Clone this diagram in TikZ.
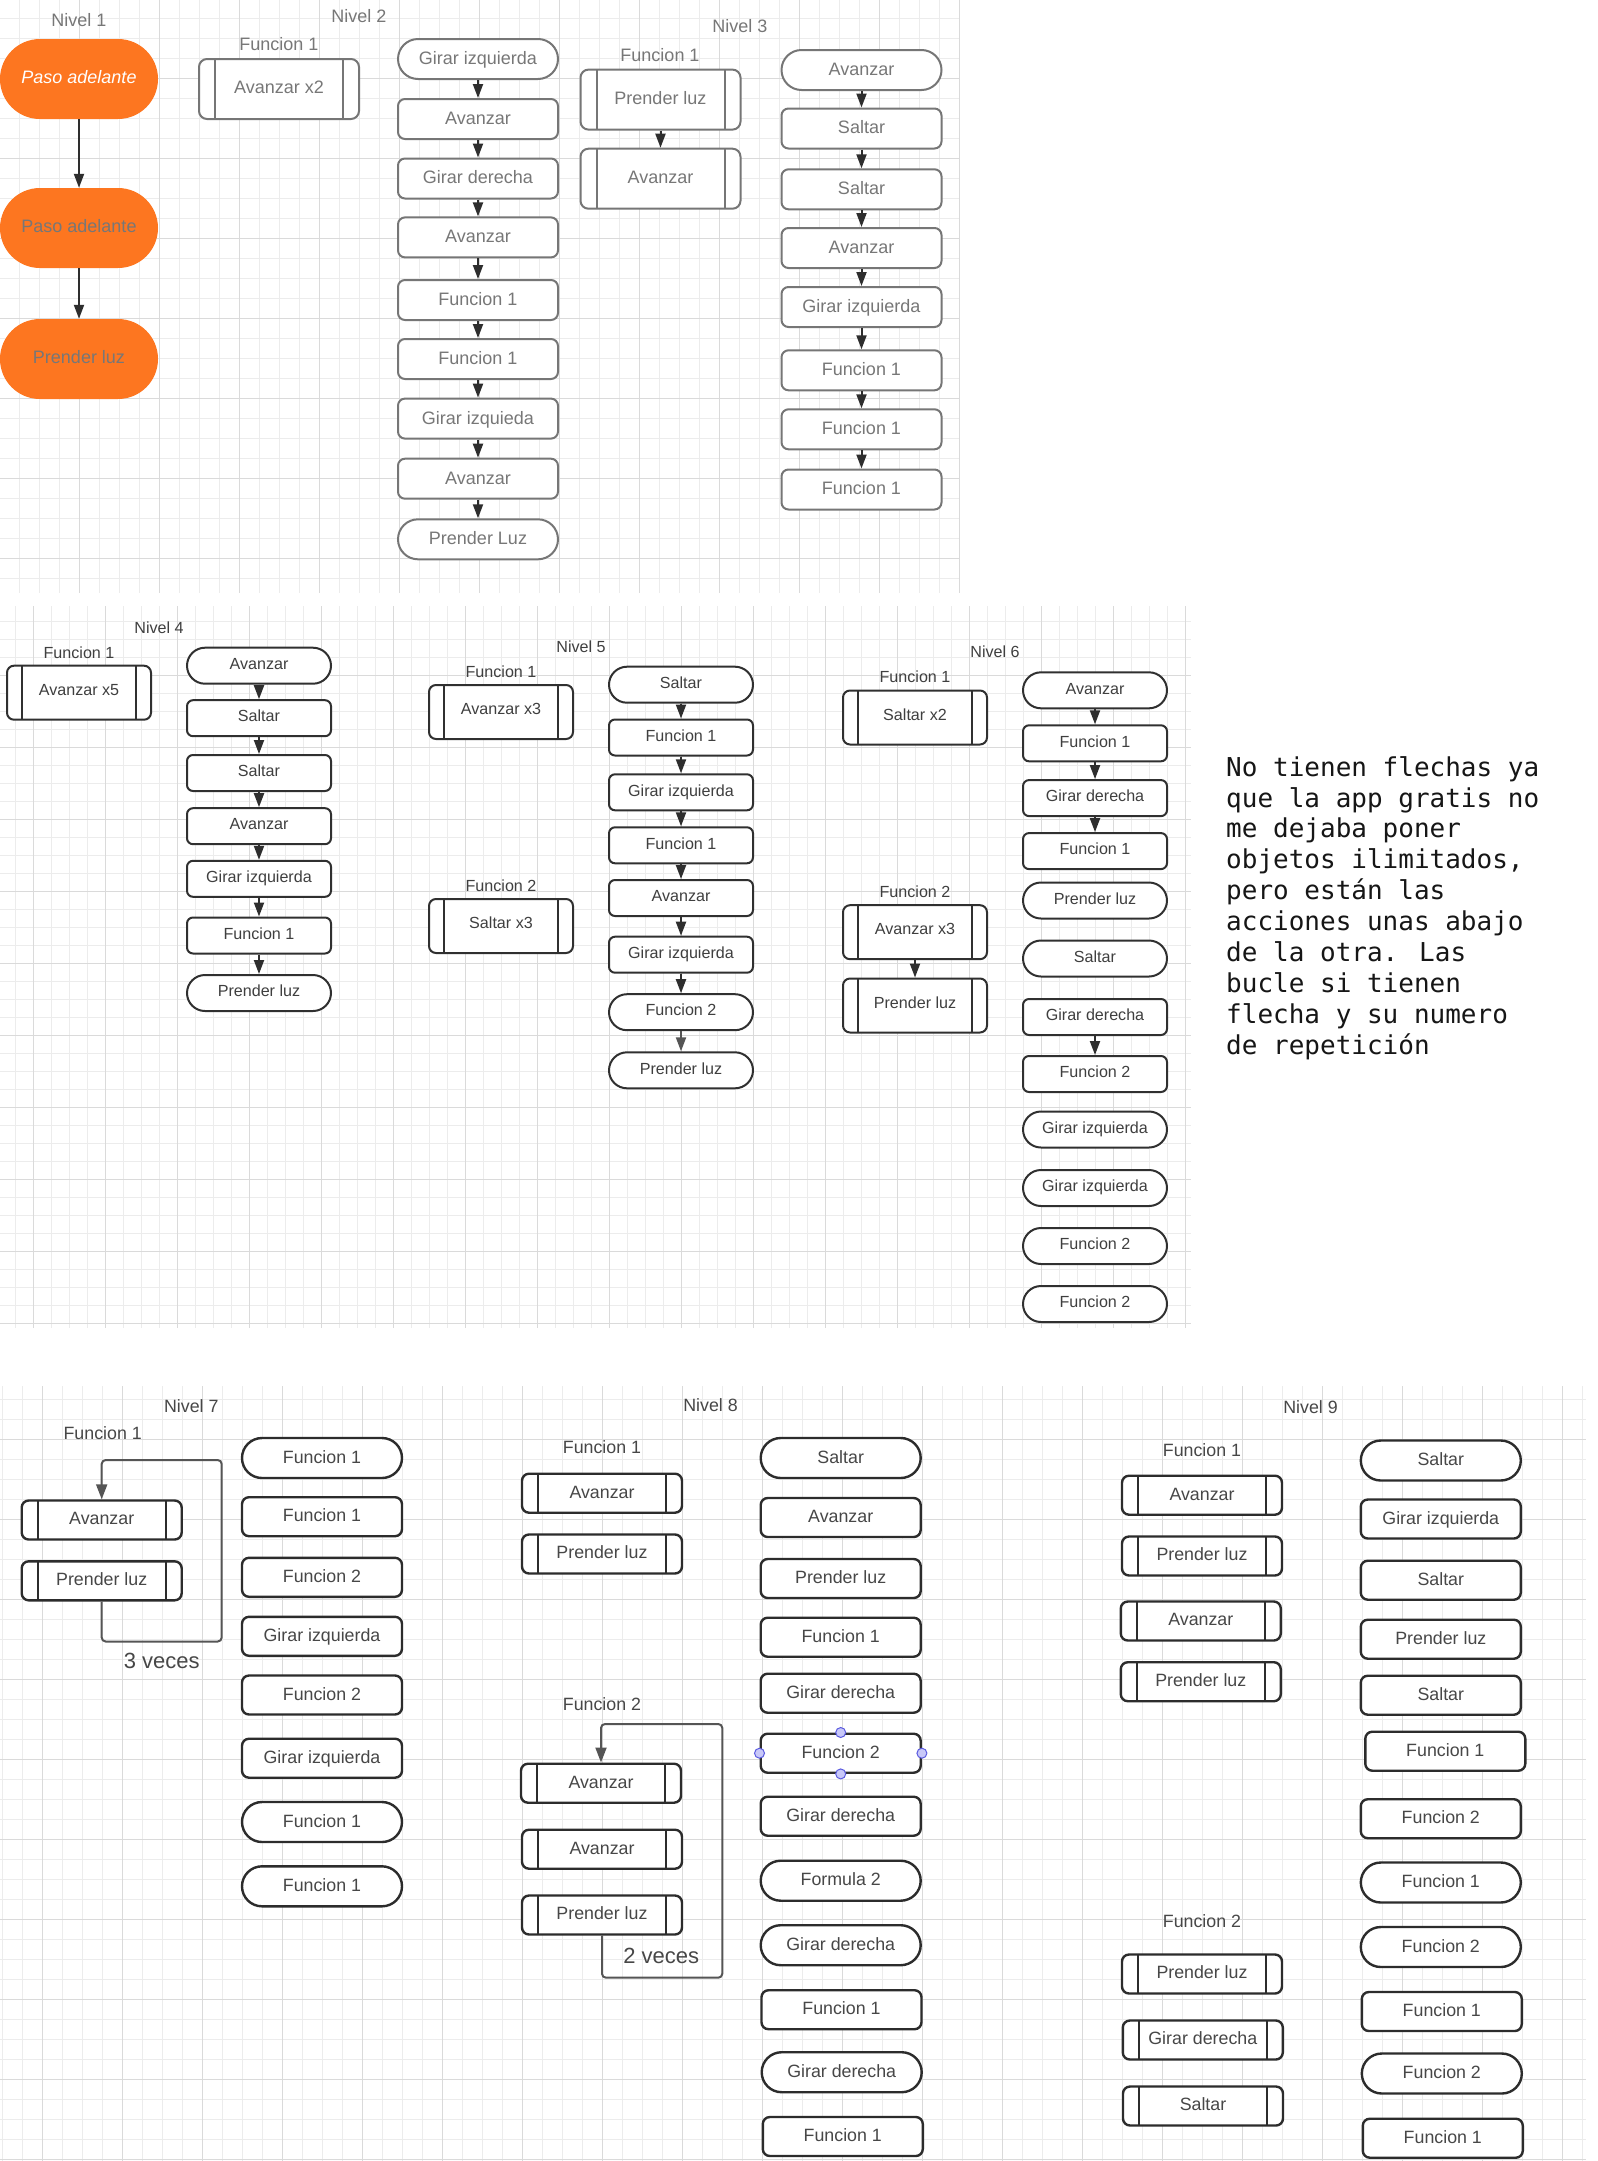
\documentclass[tikz,border=0pt]{standalone}
\usepackage{fontspec}
\setmainfont{Liberation Sans}
\newfontfamily\letramono{DejaVu Sans Mono}
\usetikzlibrary{arrows.meta}
\definecolor{naranja}{HTML}{FD7620}
\definecolor{grisA}{HTML}{777777}
\definecolor{bordeA}{HTML}{767676}
\definecolor{flechagris}{HTML}{2E2E2E}
\definecolor{grisB}{HTML}{3F3F3F}
\definecolor{bordeB}{HTML}{303030}
\definecolor{grisC}{HTML}{474747}
\definecolor{bordeC}{HTML}{2C2C2C}
\definecolor{buclegris}{HTML}{555555}
\definecolor{rejilla}{HTML}{ECECEC}
\definecolor{rejillaoscura}{HTML}{DADADA}
\definecolor{asaborde}{HTML}{5B5BE0}
\definecolor{asafondo}{HTML}{C8C8F8}
\definecolor{notanegro}{HTML}{161616}
\def\letraA{\fontsize{18}{21}\selectfont}
\def\letraB{\fontsize{16.1}{19}\selectfont}
\def\letraC{\fontsize{17.8}{21}\selectfont}
\tikzset{barras/.style 2 args={path picture={
    \draw[#1, line width=2pt] ([xshift=#2]path picture bounding box.north west)
        -- ([xshift=#2]path picture bounding box.south west);
    \draw[#1, line width=2pt] ([xshift=-#2]path picture bounding box.north east)
        -- ([xshift=-#2]path picture bounding box.south east);}}}
\tikzstyle{fino}=[draw=rejilla, line width=1pt]
\tikzstyle{grueso}=[draw=rejillaoscura, line width=1pt]
% nivel 1 a 3
\tikzstyle{tituloA}=[text=grisA, font=\letraA, inner sep=0pt,
    text height=12.9pt, text depth=0pt]
\tikzstyle{cajaA}=[draw=bordeA, fill=white, text=grisA, font=\letraA,
    line width=2pt, minimum width=160pt, minimum height=40pt,
    rounded corners=7pt, inner sep=0pt, text height=10.9pt, text depth=0pt]
\tikzstyle{pildoraA}=[cajaA, rounded corners=20pt]
\tikzstyle{subA}=[cajaA, minimum height=60pt, rounded corners=8pt,
    text height=8.9pt, barras={bordeA}{16pt}]
\tikzstyle{naranjo}=[fill=naranja, text=grisA, font=\letraA,
    minimum width=158pt, minimum height=80pt, rounded corners=40pt,
    inner sep=0pt, text height=8.4pt, text depth=0pt]
\tikzstyle{flechaA}=[draw=flechagris, line width=2pt,
    -{Triangle[width=10pt,length=14pt]}]
% nivel 4 a 6
\tikzstyle{tituloB}=[text=grisB, font=\letraB, inner sep=0pt,
    text height=11.5pt, text depth=0pt]
\tikzstyle{cajaB}=[draw=bordeB, fill=white, text=grisB, font=\letraB,
    line width=2pt, minimum width=144pt, minimum height=36pt,
    rounded corners=6pt, inner sep=0pt, text height=7.5pt, text depth=0pt]
\tikzstyle{pildoraB}=[cajaB, rounded corners=18pt]
\tikzstyle{subB}=[cajaB, minimum height=54pt, rounded corners=7pt,
    text height=5.5pt, barras={bordeB}{15pt}]
% nivel 7 a 9
\tikzstyle{tituloC}=[text=grisC, font=\letraC, inner sep=0pt,
    text height=12.8pt, text depth=0pt]
\tikzstyle{cajaC}=[draw=bordeC, fill=white, text=grisC, font=\letraC,
    line width=2.4pt, minimum width=160pt, minimum height=39pt,
    rounded corners=7pt, inner sep=0pt, text height=10pt, text depth=0pt]
\tikzstyle{pildoraC}=[cajaC, minimum height=40pt, rounded corners=20pt]
\tikzstyle{subC}=[cajaC, text height=9.6pt, barras={bordeC}{16pt}]
\tikzstyle{bucle}=[draw=buclegris, line width=2pt, rounded corners=4pt,
    -{Triangle[width=11pt,length=15pt]}]
\tikzstyle{asa}=[circle, draw=asaborde, fill=asafondo, line width=1pt,
    minimum size=10pt, inner sep=0pt]

\begin{document}
\begin{tikzpicture}[x=1pt, y=-1pt]
    \useasboundingbox (0,0) rectangle (1598,2161);
    \fill[white] (0,0) rectangle (1598,2161);
    % rejillas
    \foreach \k in {1,...,48} \draw[fino] ({20*\k-1},0) -- ++(0,593);
    \foreach \k in {1,...,29} \draw[fino] (0,{20*\k-2}) -- ++(960,0);
    \foreach \k in {1,...,12} \draw[grueso] ({80*\k-1},0) -- ++(0,593);
    \foreach \k in {1,...,7} \draw[grueso] (0,{80*\k-2}) -- ++(960,0);
    \foreach \k in {0,...,65} \draw[fino] ({15.7+18*\k},606) -- ++(0,722);
    \foreach \k in {34,...,73} \draw[fino] (0,{9+18*\k}) -- ++(1191,0);
    \foreach \k in {0,...,16} \draw[grueso] ({33.7+72*\k},606) -- ++(0,722);
    \foreach \k in {1,...,10} \draw[grueso] (0,{603+72*\k}) -- ++(1191,0);
    \foreach \k in {0,...,79} \draw[fino] ({2+20*\k},1386) -- ++(0,775);
    \foreach \k in {69,...,107} \draw[fino] (0,{19+20*\k}) -- ++(1586,0);
    \foreach \k in {0,...,19} \draw[grueso] ({42+80*\k},1386) -- ++(0,775);
    \foreach \k in {0,...,9} \draw[grueso] (0,{1439+80*\k}) -- ++(1586,0);

    % Nivel 1
    \node (niv1) [tituloA] at (79,20) {Nivel 1};
    \node (p1) [naranjo, text=white, font=\letraA\itshape] at (79,79) {Paso adelante};
    \node (p2) [naranjo] at (79,228) {Paso adelante};
    \node (p3) [naranjo] at (79,359) {Prender luz};
    \draw[flechaA] (p1) -- (p2);
    \draw[flechaA] (p2) -- (p3);

    % Nivel 2
    \node (niv2) [tituloA] at (359,16) {Nivel 2};
    \node (fn2) [tituloA] at (279,44) {Funcion 1};
    \node (s2) [subA] at (279,89) {Avanzar x2};
    \node (a1) [pildoraA] at (478,59) {Girar izquierda};
    \node (a2) [cajaA] at (478,119) {Avanzar};
    \node (a3) [cajaA] at (478,178.5) {Girar derecha};
    \node (a4) [cajaA] at (478,237.4) {Avanzar};
    \node (a5) [cajaA] at (478,300) {Funcion 1};
    \node (a6) [cajaA] at (478,359) {Funcion 1};
    \node (a7) [cajaA] at (478,418.6) {Girar izquieda};
    \node (a8) [cajaA] at (478,478.7) {Avanzar};
    \node (a9) [pildoraA] at (478,539.3) {Prender Luz};
    \draw[flechaA] (a1) -- (a2);
    \draw[flechaA] (a2) -- (a3);
    \draw[flechaA] (a3) -- (a4);
    \draw[flechaA] (a4) -- (a5);
    \draw[flechaA] (a5) -- (a6);
    \draw[flechaA] (a6) -- (a7);
    \draw[flechaA] (a7) -- (a8);
    \draw[flechaA] (a8) -- (a9);

    % Nivel 3
    \node (niv3) [tituloA] at (740,26) {Nivel 3};
    \node (fn3) [tituloA] at (660,55) {Funcion 1};
    \node (s3a) [subA] at (660.5,99.6) {Prender luz};
    \node (s3b) [subA] at (660.5,178.7) {Avanzar};
    \draw[flechaA] (s3a) -- (s3b);
    \node (b1) [pildoraA] at (861.5,70) {Avanzar};
    \node (b2) [cajaA] at (861.5,128.5) {Saltar};
    \node (b3) [cajaA] at (861.5,189.3) {Saltar};
    \node (b4) [cajaA] at (861.5,248) {Avanzar};
    \node (b5) [cajaA] at (861.5,307) {Girar izquierda};
    \node (b6) [cajaA] at (861.5,370.3) {Funcion 1};
    \node (b7) [cajaA] at (861.5,429.3) {Funcion 1};
    \node (b8) [cajaA] at (861.5,489.5) {Funcion 1};
    \draw[flechaA] (b1) -- (b2);
    \draw[flechaA] (b2) -- (b3);
    \draw[flechaA] (b3) -- (b4);
    \draw[flechaA] (b4) -- (b5);
    \draw[flechaA] (b5) -- (b6);
    \draw[flechaA] (b6) -- (b7);
    \draw[flechaA] (b7) -- (b8);

    % Nivel 4
    \node (niv4) [tituloB] at (159,628) {Nivel 4};
    \node (fn4) [tituloB] at (79,652.5) {Funcion 1};
    \node (s4) [subB] at (79,692.7) {Avanzar x5};
    \node (c1) [pildoraB] at (259,665.7) {Avanzar};
    \node (c2) [cajaB] at (259,718.2) {Saltar};
    \node (c3) [cajaB] at (259,773) {Saltar};
    \node (c4) [cajaB] at (259,826.2) {Avanzar};
    \node (c5) [cajaB] at (259,878.8) {Girar izquierda};
    \node (c6) [cajaB] at (259,935.5) {Funcion 1};
    \node (c7) [pildoraB] at (259,993) {Prender luz};
    \draw[flechaA] (c1) -- (c2);
    \draw[flechaA] (c2) -- (c3);
    \draw[flechaA] (c3) -- (c4);
    \draw[flechaA] (c4) -- (c5);
    \draw[flechaA] (c5) -- (c6);
    \draw[flechaA] (c6) -- (c7);

    % Nivel 5
    \node (niv5) [tituloB] at (581,646.3) {Nivel 5};
    \node (fn5a) [tituloB] at (501,671.3) {Funcion 1};
    \node (s5a) [subB] at (501,712) {Avanzar x3};
    \node (fn5b) [tituloB] at (501,885.8) {Funcion 2};
    \node (s5b) [subB] at (501,926) {Saltar x3};
    \node (d1) [pildoraB] at (681,684.7) {Saltar};
    \node (d2) [cajaB] at (681,737.5) {Funcion 1};
    \node (d3) [cajaB] at (681,792.3) {Girar izquierda};
    \node (d4) [cajaB] at (681,845.3) {Funcion 1};
    \node (d5) [cajaB] at (681,898) {Avanzar};
    \node (d6) [cajaB] at (681,954.7) {Girar izquierda};
    \node (d7) [pildoraB] at (681,1012.2) {Funcion 2};
    \node (d8) [pildoraB] at (681,1070.3) {Prender luz};
    \draw[flechaA] (d1) -- (d2);
    \draw[flechaA] (d2) -- (d3);
    \draw[flechaA] (d3) -- (d4);
    \draw[flechaA] (d4) -- (d5);
    \draw[flechaA] (d5) -- (d6);
    \draw[flechaA] (d6) -- (d7);
    \draw[flechaA, draw=buclegris] (d7) -- (d8);

    % Nivel 6
    \node (niv6) [tituloB] at (995,652) {Nivel 6};
    \node (fn6a) [tituloB] at (915,676.6) {Funcion 1};
    \node (s6a) [subB] at (915,717.5) {Saltar x2};
    \node (fn6b) [tituloB] at (915,891.3) {Funcion 2};
    \node (s6b) [subB] at (915,932.2) {Avanzar x3};
    \node (s6c) [subB] at (915,1005.5) {Prender luz};
    \draw[flechaA] (s6b) -- (s6c);
    \node (e1) [pildoraB] at (1095,690.3) {Avanzar};
    \node (e2) [cajaB] at (1095,743.3) {Funcion 1};
    \node (e3) [cajaB] at (1095,798.1) {Girar derecha};
    \node (e4) [cajaB] at (1095,851.1) {Funcion 1};
    \node (e5) [pildoraB] at (1095,900.5) {Prender luz};
    \node (e6) [pildoraB] at (1095,958.5) {Saltar};
    \node (e7) [cajaB] at (1095,1017) {Girar derecha};
    \node (e8) [cajaB] at (1095,1074) {Funcion 2};
    \node (e9) [pildoraB] at (1095,1129.5) {Girar izquierda};
    \node (e10) [pildoraB] at (1095,1188) {Girar izquierda};
    \node (e11) [pildoraB] at (1095,1246) {Funcion 2};
    \node (e12) [pildoraB] at (1095,1304) {Funcion 2};
    \draw[flechaA] (e1) -- (e2);
    \draw[flechaA] (e2) -- (e3);
    \draw[flechaA] (e3) -- (e4);
    \draw[flechaA] (e7) -- (e8);

    % nota
    \node (nota) [anchor=north west, inner sep=0pt, align=left, text=notanegro,
        font=\letramono\fontsize{26}{30.9}\selectfont] at (1226,756)
        {No tienen flechas ya\\que la app gratis no\\me dejaba poner\\
         objetos ilimitados,\\pero están las\\acciones unas abajo\\
         de la otra. Las\\bucle si tienen\\flecha y su numero\\de repetición};

    % Nivel 7
    \node (niv7) [tituloC] at (191.3,1405.7) {Nivel 7};
    \node (fn7) [tituloC] at (102.7,1432.8) {Funcion 1};
    \node (s7a) [subC] at (101.7,1520) {Avanzar};
    \node (s7b) [subC] at (101.7,1580.8) {Prender luz};
    \coordinate (giro7) at (221.7,1460);
    \draw[bucle] (s7b.south) -- ++(0,40) -| (giro7) -| (s7a.north);
    \node (veces7) [tituloC, font=\fontsize{22}{26}\selectfont,
        text height=15.8pt] at (161.7,1660.5) {3 veces};
    \node (g1) [pildoraC] at (322,1458) {Funcion 1};
    \node (g2) [cajaC] at (322,1516.7) {Funcion 1};
    \node (g3) [cajaC] at (322,1577.3) {Funcion 2};
    \node (g4) [cajaC] at (322,1636.3) {Girar izquierda};
    \node (g5) [cajaC] at (322,1695) {Funcion 2};
    \node (g6) [cajaC] at (322,1758.2) {Girar izquierda};
    \node (g7) [pildoraC] at (322,1822) {Funcion 1};
    \node (g8) [pildoraC] at (322,1886.3) {Funcion 1};

    % Nivel 8
    \node (niv8) [tituloC] at (710.5,1405) {Nivel 8};
    \node (fn8a) [tituloC] at (602,1447.5) {Funcion 1};
    \node (s8a) [subC] at (602,1493.2) {Avanzar};
    \node (s8b) [subC] at (602,1554) {Prender luz};
    \node (fn8b) [tituloC] at (602,1704) {Funcion 2};
    \node (s8c) [subC] at (601,1783.2) {Avanzar};
    \node (s8d) [subC] at (602,1849.2) {Avanzar};
    \node (s8e) [subC] at (602,1915) {Prender luz};
    \coordinate (giro8) at (722.3,1724);
    \draw[bucle] (s8e.south) -- ++(0,42) -| (giro8) -| (s8c.north);
    \node (veces8) [tituloC, font=\fontsize{22}{26}\selectfont,
        text height=15.8pt] at (661.3,1956) {2 veces};
    \node (h1) [pildoraC] at (840.7,1458) {Saltar};
    \node (h2) [cajaC] at (840.7,1517.5) {Avanzar};
    \node (h3) [cajaC] at (840.7,1578.5) {Prender luz};
    \node (h4) [cajaC] at (840.7,1637.2) {Funcion 1};
    \node (h5) [cajaC] at (840.7,1693.2) {Girar derecha};
    \node (h6) [cajaC] at (840.7,1753.2) {Funcion 2};
    \node (h6n) [asa] at (h6.north) {};
    \node (h6s) [asa] at (h6.south) {};
    \node (h6w) [asa] at (h6.west) {};
    \node (h6e) [asa] at (h6.east) {};
    \node (h7) [cajaC] at (840.7,1816.2) {Girar derecha};
    \node (h8) [pildoraC] at (840.7,1880.7) {Formula 2};
    \node (h9) [pildoraC] at (840.7,1945.2) {Girar derecha};
    \node (h10) [cajaC] at (841.5,2009.7) {Funcion 1};
    \node (h11) [pildoraC] at (841.7,2072.2) {Girar derecha};
    \node (h12) [cajaC] at (842.8,2136.5) {Funcion 1};

    % Nivel 9
    \node (niv9) [tituloC] at (1310.5,1407.5) {Nivel 9};
    \node (fn9a) [tituloC] at (1202,1450) {Funcion 1};
    \node (s9a) [subC] at (1202,1495.2) {Avanzar};
    \node (s9b) [subC] at (1202,1556) {Prender luz};
    \node (s9c) [subC] at (1200.8,1621) {Avanzar};
    \node (s9d) [subC] at (1200.8,1681.7) {Prender luz};
    \node (fn9b) [tituloC] at (1202,1921.5) {Funcion 2};
    \node (s9e) [subC] at (1202,1974) {Prender luz};
    \node (s9f) [subC] at (1202.8,2040) {Girar derecha};
    \node (s9g) [subC] at (1203,2106) {Saltar};
    \node (k1) [pildoraC] at (1440.8,1460.5) {Saltar};
    \node (k2) [cajaC] at (1440.8,1519) {Girar izquierda};
    \node (k3) [cajaC] at (1440.8,1580.2) {Saltar};
    \node (k4) [cajaC] at (1440.8,1639.2) {Prender luz};
    \node (k5) [cajaC] at (1440.8,1695.2) {Saltar};
    \node (k6) [cajaC] at (1445.3,1751.2) {Funcion 1};
    \node (k7) [cajaC] at (1440.8,1818.7) {Funcion 2};
    \node (k8) [pildoraC] at (1440.8,1882.5) {Funcion 1};
    \node (k9) [pildoraC] at (1440.8,1947) {Funcion 2};
    \node (k10) [cajaC] at (1441.8,2011.5) {Funcion 1};
    \node (k11) [pildoraC] at (1441.8,2073.5) {Funcion 2};
    \node (k12) [cajaC] at (1442.8,2138.2) {Funcion 1};
\end{tikzpicture}
\end{document}
